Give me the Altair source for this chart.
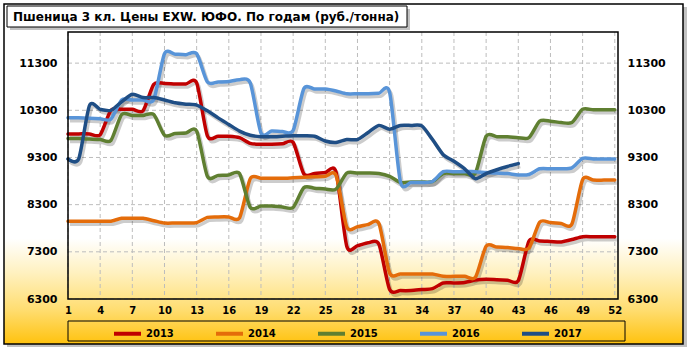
import altair as alt
import pandas as pd

weeks = list(range(1, 53))
years = ["2013", "2014", "2015", "2016", "2017"]
colors = ["#C00000", "#E46C0A", "#5F7F31", "#5894D8", "#1F4E85"]

p2013 = [9800, 9800, 9800, 9780, 10300, 10320, 10320, 10290, 10850, 10870,
         10860, 10860, 10880, 9760, 9750, 9750, 9720, 9600, 9580, 9580,
         9590, 9620, 8950, 8960, 8980, 8990, 7420, 7430, 7490, 7460,
         6500, 6480, 6480, 6500, 6520, 6640, 6640, 6650, 6700, 6720,
         6710, 6700, 6690, 7530, 7530, 7520, 7510, 7560, 7620, 7620,
         7620, 7620]
p2014 = [7950, 7950, 7950, 7950, 7950, 8010, 8010, 8010, 7960, 7910,
         7910, 7910, 7920, 8030, 8040, 8040, 8020, 8850, 8860, 8860,
         8860, 8870, 8880, 8890, 8900, 8920, 7830, 7830, 7880, 7900,
         6850, 6830, 6830, 6830, 6830, 6780, 6780, 6780, 6760, 7420,
         7400, 7390, 7370, 7380, 7930, 7920, 7900, 7890, 8830, 8820,
         8820, 8820]
p2015 = [9700, 9700, 9690, 9680, 9660, 10210, 10190, 10190, 10210, 9770,
         9810, 9820, 9860, 8900, 8920, 8930, 8960, 8240, 8270, 8270,
         8250, 8240, 8660, 8650, 8630, 8630, 8970, 8970, 8970, 8960,
         8900, 8770, 8780, 8780, 8790, 8960, 8960, 8960, 8970, 9750,
         9740, 9740, 9720, 9720, 10070, 10070, 10040, 10040, 10320, 10310,
         10310, 10310]
p2016 = [10140, 10140, 10130, 10120, 10110, 10520, 10520, 10520, 10530, 11500,
         11490, 11480, 11500, 10900, 10900, 10910, 10950, 10880, 9820, 9860,
         9850, 9870, 10760, 10750, 10750, 10710, 10650, 10650, 10650, 10660,
         10680, 8790, 8770, 8770, 8790, 9000, 9000, 9000, 9000, 8980,
         8970, 8960, 8930, 8940, 9060, 9060, 9060, 9080, 9280, 9270,
         9270, 9270]
p2017 = [9270, 9270, 10400, 10320, 10300, 10480, 10640, 10570, 10570, 10520,
         10460, 10430, 10410, 10290, 10140, 10000, 9860, 9770, 9740, 9740,
         9750, 9760, 9760, 9750, 9650, 9620, 9680, 9680, 9830, 9980,
         9900, 9980, 9980, 9970, 9680, 9360, 9220, 9060, 8850, 8960,
         9040, 9110, 9170]

x_ticks = list(range(1, 53, 3))
y_ticks = [6300, 7300, 8300, 9300, 10300, 11300]
title_text = "Пшеница 3 кл. Цены EXW. ЮФО. По годам (руб./тонна)"

W, H = 550, 267
FONT = "DejaVu Sans"

rows = []
for yr, vals in zip(years, [p2013, p2014, p2015, p2016, p2017]):
    for w, v in zip(weeks, vals):
        rows.append({"week": w, "price": v, "year": yr})
df = pd.DataFrame(rows)
one = pd.DataFrame({"k": [0]})

xscale = alt.Scale(domain=[1, 52.3], nice=False, zero=False)
yscale = alt.Scale(domain=[6300, 11960], nice=False, zero=False)

common = dict(title=None, grid=False, domain=False, ticks=False, tickSize=0,
              labelFont=FONT, labelFontWeight="bold", labelColor="black",
              format="d", labelFlush=False, labelOverlap=False, zindex=2)
xaxis = alt.Axis(values=x_ticks, labelPadding=6, labelFontSize=10, **common)
yaxis_left = alt.Axis(values=y_ticks, labelPadding=11, labelFontSize=11,
                      orient="left", **common)
yaxis_right = alt.Axis(values=y_ticks, labelPadding=9, labelFontSize=11,
                       orient="right", **common)


def box(x, x2, y, y2, **kw):
    return alt.Chart(one).mark_rect(**kw).encode(
        x=alt.value(x), x2=alt.value(x2), y=alt.value(y), y2=alt.value(y2))


grad = alt.LinearGradient(
    gradient="linear", x1=0, x2=0, y1=0, y2=1,
    stops=[
        alt.GradientStop(offset=0, color="#FFFFFF"),
        alt.GradientStop(offset=0.69, color="#FFFFFF"),
        alt.GradientStop(offset=0.79, color="#FFF1C0"),
        alt.GradientStop(offset=0.90, color="#FFDD70"),
        alt.GradientStop(offset=1, color="#FFC20E"),
    ])

frame_shadow = box(-61, 619, -25, 315, fill="#9A9A9A", opacity=0.6)
frame = box(-64, 615, -28, 312, fill=grad, stroke="black", strokeWidth=1.5)
title_shadow = box(-58, 342, -23, -2, fill="#9A9A9A", opacity=0.6)
title_box = box(-61, 339, -26, -5, fill="white", stroke="black", strokeWidth=1)
title = alt.Chart(one).mark_text(
    text=title_text, align="left", baseline="alphabetic", font=FONT,
    fontWeight="bold", fontSize=12, color="black").encode(
    x=alt.value(-55), y=alt.value(-11))
legend_box = box(0, 557, 289, 309, fill="white", fillOpacity=0, stroke="black", strokeWidth=1)

vgrid = alt.Chart(pd.DataFrame({"week": x_ticks})).mark_rule(
    color="#BDBDBD", strokeDash=[4, 3], strokeWidth=1).encode(
    x=alt.X("week:Q", scale=xscale, axis=xaxis), y=alt.value(0), y2=alt.value(H))
hgrid = alt.Chart(pd.DataFrame({"price": y_ticks})).mark_rule(
    color="#BDBDBD", strokeDash=[4, 3], strokeWidth=1).encode(
    y=alt.Y("price:Q", scale=yscale, axis=yaxis_left), x=alt.value(0), x2=alt.value(W))
right = alt.Chart(pd.DataFrame({"price": y_ticks})).mark_rule(opacity=0).encode(
    y=alt.Y("price:Q", scale=yscale, axis=yaxis_right), x=alt.value(0), x2=alt.value(W))

shadow = alt.Chart(df).mark_line(
    interpolate="cardinal", tension=0.25, strokeWidth=3.5, color="#000000", opacity=0.2,
    xOffset=2, yOffset=3).encode(
    x=alt.X("week:Q", scale=xscale, axis=xaxis),
    y=alt.Y("price:Q", scale=yscale, axis=None),
    detail="year:N")
lines = alt.Chart(df).mark_line(
    interpolate="cardinal", tension=0.25, strokeWidth=3.5, strokeCap="round").encode(
    x=alt.X("week:Q", scale=xscale, axis=xaxis),
    y=alt.Y("price:Q", scale=yscale, axis=None),
    color=alt.Color("year:N", scale=alt.Scale(domain=years, range=colors),
                    legend=alt.Legend(title=None, orient="none", legendX=44, legendY=286,
                                      direction="horizontal", symbolType="stroke",
                                      symbolStrokeWidth=4, symbolSize=729,
                                      labelFont=FONT, labelFontWeight="bold",
                                      labelFontSize=10, labelColor="black",
                                      columnPadding=34, labelOffset=3, padding=0,
                                      zindex=2)))
border = box(0, W, 0, H, fill="white", fillOpacity=0, stroke="black", strokeWidth=1.5)

chart = alt.layer(
    frame_shadow, frame, title_shadow, title_box, title, legend_box,
    vgrid, hgrid, right, shadow, lines, border
).resolve_axis(y="independent").properties(
    width=W, height=H,
    autosize=alt.AutoSizeParams(type="none"),
    padding={"left": 68, "top": 32, "right": 74, "bottom": 53},
    background="white",
).configure_view(strokeWidth=0)

chart.save("out.html", embed_options={"renderer": "svg", "actions": False})
